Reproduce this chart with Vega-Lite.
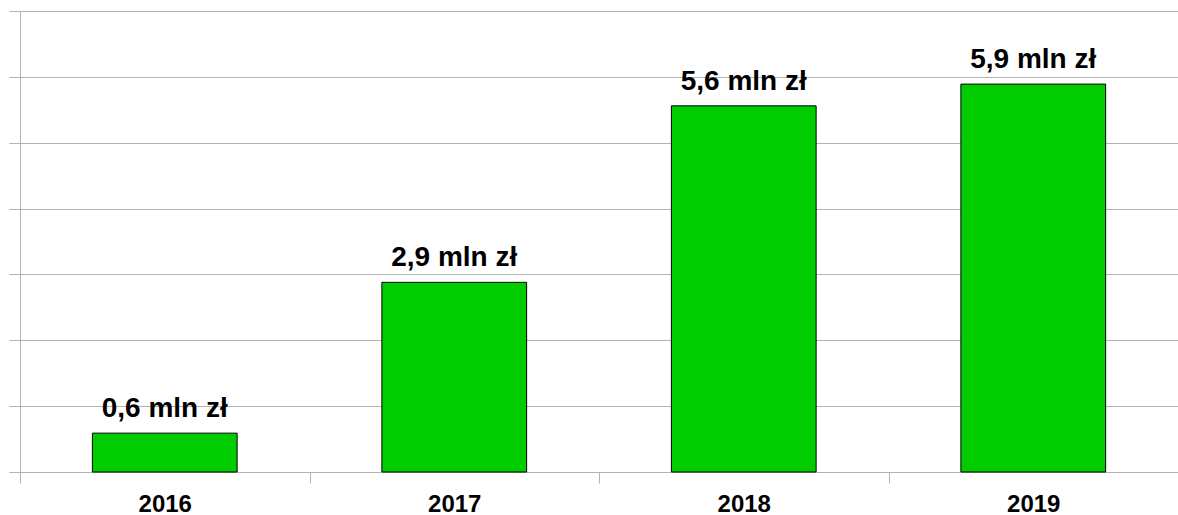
{
  "$schema": "https://vega.github.io/schema/vega-lite/v6.json",
  "autosize": "none",
  "padding": {"left": 20, "top": 11, "right": 0, "bottom": 43},
  "width": 1158,
  "height": 461,
  "background": "white",
  "config": {"view": {"stroke": null}, "font": "Liberation Sans"},
  "data": {"values": [
    {"year": "2016", "value": 0.59, "label": "0,6 mln zł"},
    {"year": "2017", "value": 2.88, "label": "2,9 mln zł"},
    {"year": "2018", "value": 5.56, "label": "5,6 mln zł"},
    {"year": "2019", "value": 5.89, "label": "5,9 mln zł"}
  ]},
  "encoding": {
    "x": {"field": "year", "type": "nominal", "scale": {"paddingInner": 0, "paddingOuter": 0},
      "axis": {"title": null, "labelAngle": 0, "tickBand": "extent", "domainColor": "#b3b3b3", "tickColor": "#b3b3b3", "tickSize": 11, "labelFontSize": 24, "labelFontWeight": "bold", "labelColor": "black", "labelPadding": 9, "labelFont": "Liberation Sans"}},
    "y": {"field": "value", "type": "quantitative", "scale": {"domain": [0, 7], "nice": false},
      "axis": {"title": null, "labels": false, "values": [0,1,2,3,4,5,6,7], "domainColor": "#b3b3b3", "tickColor": "#b3b3b3", "tickSize": 11, "gridColor": "#b3b3b3", "grid": true}}
  },
  "layer": [
    {"mark": {"type": "bar", "color": "#00cc00", "stroke": "black", "strokeWidth": 1, "width": {"band": 0.5}}},
    {"mark": {"type": "text", "baseline": "alphabetic", "dy": -16, "fontSize": 28, "fontWeight": "bold", "font": "Liberation Sans", "color": "black"},
     "encoding": {"text": {"field": "label"}}}
  ]
}
